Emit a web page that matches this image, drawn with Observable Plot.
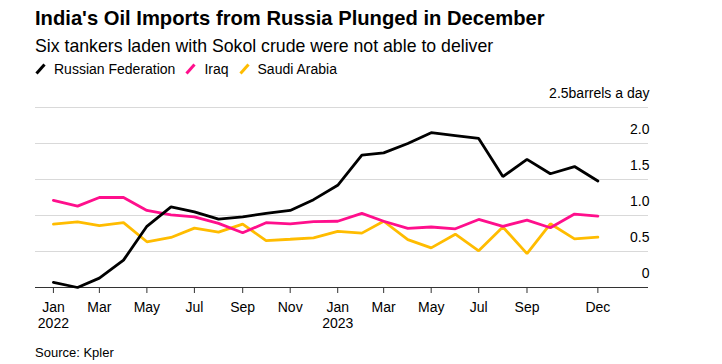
<!DOCTYPE html>
<html><head><meta charset="utf-8">
<script src="https://cdn.jsdelivr.net/npm/d3@7"></script>
<script src="https://cdn.jsdelivr.net/npm/@observablehq/plot@0.6"></script>
<style>
body{margin:0;background:#fff;font-family:"Liberation Sans",Arial,sans-serif;color:#000;}
#wrap{width:722px;height:364px;position:relative;overflow:hidden}
.title{padding:6px 0 0 35px;font-size:20.2px;font-weight:bold;line-height:24px;}
.subtitle{margin-top:6px;padding-left:35px;font-size:17.7px;line-height:20px;}
.legend{margin-top:4px;padding-left:35px;font-size:14px;line-height:18px;display:flex;align-items:center}
.item{display:flex;align-items:center;margin-right:10px}
.item svg{margin-right:8px}
.source{margin-top:13px;padding-left:35px;font-size:13px;line-height:16px;color:#000}
#chart svg{display:block}
</style></head>
<body>
<div id="wrap">
<div class="title">India's Oil Imports from Russia Plunged in December</div>
<div class="subtitle">Six tankers laden with Sokol crude were not able to deliver</div>
<div class="legend" id="legend"></div>
<div id="chart"></div>
<div class="source">Source: Kpler</div>
</div>
<script>
const months = ["2022-01","2022-02","2022-03","2022-04","2022-05","2022-06","2022-07","2022-08","2022-09","2022-10","2022-11","2022-12",
                "2023-01","2023-02","2023-03","2023-04","2023-05","2023-06","2023-07","2023-08","2023-09","2023-10","2023-11","2023-12"];
const seriesNames = ["Russian Federation","Iraq","Saudi Arabia"];
const seriesColors = ["#000000","#ff0f8c","#ffbc00"];
const russia = [0.07,0.0,0.13,0.38,0.85,1.12,1.05,0.95,0.98,1.03,1.07,1.22,1.42,1.84,1.87,2.0,2.15,2.11,2.07,1.54,1.78,1.58,1.68,1.48];
const iraq   = [1.21,1.13,1.25,1.25,1.07,1.01,0.98,0.89,0.76,0.9,0.885,0.915,0.92,1.03,0.92,0.82,0.84,0.815,0.945,0.85,0.935,0.83,1.02,0.99];
const saudi  = [0.88,0.91,0.86,0.9,0.635,0.695,0.825,0.77,0.88,0.65,0.67,0.69,0.78,0.755,0.92,0.665,0.55,0.74,0.51,0.84,0.47,0.885,0.675,0.7];
const xTickMonths = ["2022-01","2022-03","2022-05","2022-07","2022-09","2022-11","2023-01","2023-03","2023-05","2023-07","2023-09","2023-12"];
const xTickLabels = ["Jan\n2022","Mar","May","Jul","Sep","Nov","Jan\n2023","Mar","May","Jul","Sep","Dec"];
const yTicks = [0,0.5,1,1.5,2,2.5];
const yTickLabels = ["0","0.5","1.0","1.5","2.0","2.5barrels a day"];

const parse = s => new Date(s + "-01T00:00:00Z");
const values = [russia, iraq, saudi];
const data = [];
seriesNames.forEach((name, k) => months.forEach((m, i) => data.push({series: name, date: parse(m), value: values[k][i]})));
const xLabelMap = new Map(xTickMonths.map((m, i) => [+parse(m), xTickLabels[i]]));
const yLabelMap = new Map(yTicks.map((v, i) => [v, yTickLabels[i]]));

// legend
const legend = document.getElementById("legend");
seriesNames.forEach((name, k) => {
  const it = document.createElement("div");
  it.className = "item";
  it.innerHTML = `<svg width="11" height="12"><line x1="1.5" y1="10.5" x2="9.5" y2="1.5" stroke="${seriesColors[k]}" stroke-width="3"/></svg><span>${name}</span>`;
  legend.appendChild(it);
});

const lineMark = name => Plot.line(data.filter(d => d.series === name), {x: "date", y: "value", stroke: "series", strokeWidth: 2.8, strokeLinejoin: "miter"});

const chart = Plot.plot({
  width: 722, height: 254,
  marginLeft: 35, marginRight: 74, marginTop: 29, marginBottom: 45,
  style: {fontFamily: "'Liberation Sans', Arial, sans-serif", fontSize: "14px", color: "#000", background: "#fff"},
  x: {type: "utc", domain: [new Date(Date.UTC(2021,11,9)), new Date(Date.UTC(2024,1,4))]},
  y: {domain: [0, 2.5]},
  color: {domain: seriesNames, range: seriesColors},
  marks: [
    Plot.gridY(yTicks.filter(d => d > 0), {stroke: "#d9d9d9", strokeOpacity: 1, strokeWidth: 1}),
    Plot.ruleY([0], {stroke: "#333", strokeWidth: 1}),
    Plot.axisX(xTickMonths.map(parse), {tickSize: 6, tickPadding: 7, stroke: "#333", lineHeight: 1.15, tickFormat: d => xLabelMap.get(+d), label: null}),
    Plot.axisY(yTicks, {anchor: "right", tickSize: 0, tickPadding: 1, textAnchor: "end", dy: -14, tickFormat: d => yLabelMap.get(d), label: null}),
    lineMark("Saudi Arabia"),
    lineMark("Iraq"),
    lineMark("Russian Federation")
  ]
});
document.getElementById("chart").appendChild(chart);
</script>
</body></html>
